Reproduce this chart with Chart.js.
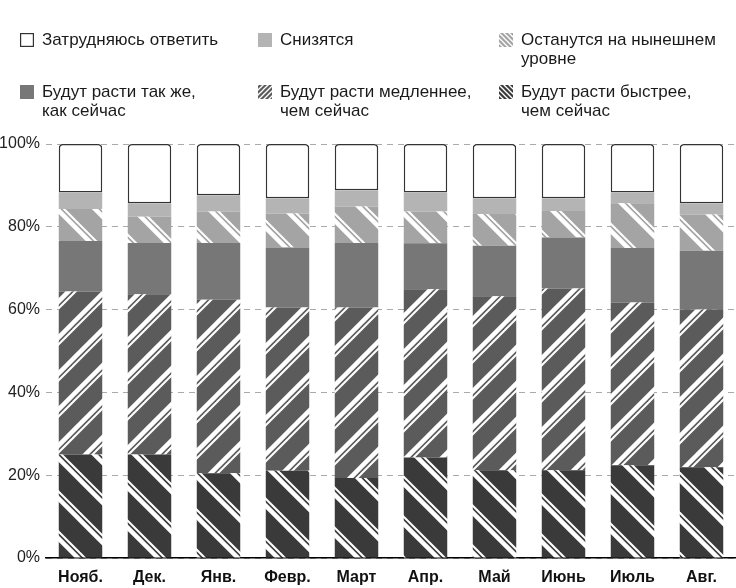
<!DOCTYPE html>
<html><head><meta charset="utf-8">
<script src="https://cdn.jsdelivr.net/npm/chart.js@4"></script>
<style>
html,body{margin:0;padding:0;background:#fff;}
#wrap{position:relative;width:736px;height:588px;overflow:hidden;font-family:"Liberation Sans",Arial,sans-serif;}
#c{position:absolute;left:0;top:0;}
.li{position:absolute;font-size:17px;line-height:19px;color:#1a1a1a;}
.li canvas{position:absolute;left:0;}
.li span{position:absolute;white-space:nowrap;}
</style></head><body>
<div id="wrap"><canvas id="c" width="736" height="588"></canvas><div id="legend"></div></div>
<script>
const categories = ["Нояб.", "Дек.", "Янв.", "Февр.", "Март", "Апр.", "Май", "Июнь", "Июль", "Авг."];
const fasterValues = [25.0, 25.0, 20.5, 21.1, 19.3, 24.3, 21.2, 21.2, 22.4, 21.9];
const slowerValues = [39.4, 38.7, 41.9, 39.4, 41.2, 40.6, 42.0, 43.9, 39.3, 38.1];
const sameValues   = [12.2, 12.4, 13.7, 14.5, 15.6, 11.1, 12.2, 12.3, 13.2, 14.2];
const stayValues   = [7.7, 6.3, 7.6, 8.2, 8.8, 7.7, 7.7, 6.4, 10.8, 8.8];
const fallValues   = [4.0, 3.3, 3.9, 3.7, 3.9, 4.6, 3.8, 3.1, 2.6, 2.7];
const unsureValues = [11.7, 14.3, 12.4, 13.1, 11.2, 11.7, 13.1, 13.1, 11.7, 14.3];
const yTicks = [0, 20, 40, 60, 80, 100];

const seriesNames = {
  unsure: "Затрудняюсь ответить",
  fall: "Снизятся",
  stay: ["Останутся на нынешнем", "уровне"],
  same: ["Будут расти так же,", "как сейчас"],
  slower: ["Будут расти медленнее,", "чем сейчас"],
  faster: ["Будут расти быстрее,", "чем сейчас"]
};

const COL = {fast:'#3a3a3a', slow:'#5b5b5b', same:'#777777', stay:'#a4a4a4', fall:'#b4b4b4'};

function tile(bg, dir, P, lines){
  const c=document.createElement('canvas'); c.width=P; c.height=P;
  const g=c.getContext('2d');
  g.fillStyle=bg; g.fillRect(0,0,P,P);
  g.strokeStyle='#fff';
  for(const [off,w] of lines){
    g.lineWidth=w;
    for(let k=-1;k<=2;k++){
      const cc=k*P+off;
      g.beginPath();
      if(dir==='\\'){ g.moveTo(cc-P,-P); g.lineTo(cc+2*P,2*P); }
      else { g.moveTo(cc+P,-P); g.lineTo(cc-2*P,2*P); }
      g.stroke();
    }
  }
  return c;
}
const mainCtx=document.getElementById('c').getContext('2d');
const pFast=mainCtx.createPattern(tile(COL.fast,'\\',40,[[0,4.5],[7,2]]),'repeat');
const pSlow=mainCtx.createPattern(tile(COL.slow,'/',36,[[0,4.5],[7,2]]),'repeat');
const pStay=mainCtx.createPattern(tile(COL.stay,'\\',38,[[0,4.5],[7,2]]),'repeat');

new Chart(mainCtx,{
  type:'bar',
  data:{labels:categories,datasets:[
    {label:seriesNames.faster.join(' '),data:fasterValues,backgroundColor:pFast,borderWidth:0},
    {label:seriesNames.slower.join(' '),data:slowerValues,backgroundColor:pSlow,borderWidth:0},
    {label:seriesNames.same.join(' '),data:sameValues,backgroundColor:COL.same,borderWidth:0},
    {label:seriesNames.stay.join(' '),data:stayValues,backgroundColor:pStay,borderWidth:0},
    {label:seriesNames.fall,data:fallValues,backgroundColor:COL.fall,borderWidth:0},
    {label:seriesNames.unsure,data:unsureValues,backgroundColor:'#fff',borderColor:'#333',borderWidth:1.5,borderSkipped:false,
      borderRadius:{topLeft:4,topRight:4,bottomLeft:0,bottomRight:0}}
  ]},
  options:{
    responsive:false,animation:false,devicePixelRatio:1,
    layout:{padding:{top:144,left:0,right:-8,bottom:0}},
    datasets:{bar:{barPercentage:0.63,categoryPercentage:1.0}},
    plugins:{legend:{display:false},tooltip:{enabled:false},title:{display:false}},
    scales:{
      x:{stacked:true,grid:{display:false},
         border:{display:true,color:'#000',width:1.5},
         ticks:{font:{family:'"Liberation Sans", Arial, sans-serif',size:16,weight:'bold'},color:'#111',padding:2,maxRotation:0},
         afterFit:s=>{s.height=30;}},
      y:{stacked:true,min:0,max:100,
         afterBuildTicks:s=>{s.ticks=yTicks.map(v=>({value:v}));},
         grid:{color:'#aaaaaa',lineWidth:1,drawTicks:false},
         border:{display:false,dash:[6,5]},
         ticks:{callback:v=>v+'%',font:{family:'"Liberation Sans", Arial, sans-serif',size:16},color:'#222',padding:6},
         afterFit:s=>{s.width=46;}}
    }
  }
});

// HTML legend
function sw(kind){
  const c=document.createElement('canvas'); c.width=14; c.height=14;
  const g=c.getContext('2d');
  if(kind==='unsure'){ g.fillStyle='#fff'; g.fillRect(0,0,14,14); g.strokeStyle='#333'; g.lineWidth=1.2; g.strokeRect(0.6,0.6,12.8,12.8); }
  else if(kind==='fall'){ g.fillStyle=COL.fall; g.fillRect(0,0,14,14); }
  else if(kind==='same'){ g.fillStyle=COL.same; g.fillRect(0,0,14,14); }
  else {
    const bg=kind==='stay'?COL.stay:kind==='slower'?COL.slow:COL.fast;
    const dir=kind==='slower'?'/':'\\';
    g.fillStyle=g.createPattern(tile(bg,dir,5,[[0,1.3]]),'repeat'); g.fillRect(0,0,14,14);
  }
  return c;
}
const items=[
  ['unsure',20,33,seriesNames.unsure],
  ['fall',258,33,seriesNames.fall],
  ['stay',499,33,seriesNames.stay],
  ['same',20,85,seriesNames.same],
  ['slower',258,85,seriesNames.slower],
  ['faster',499,85,seriesNames.faster]
];
const lg=document.getElementById('legend');
for(const [k,x,y,t] of items){
  const d=document.createElement('div'); d.className='li'; d.style.left=x+'px'; d.style.top=y+'px';
  const c=sw(k); c.style.top='0px'; d.appendChild(c);
  const lines=Array.isArray(t)?t:[t];
  lines.forEach((ln,i)=>{const s=document.createElement('span'); s.textContent=ln; s.style.left='22px'; s.style.top=(-3+i*19)+'px'; d.appendChild(s);});
  lg.appendChild(d);
}
</script>
</body></html>
